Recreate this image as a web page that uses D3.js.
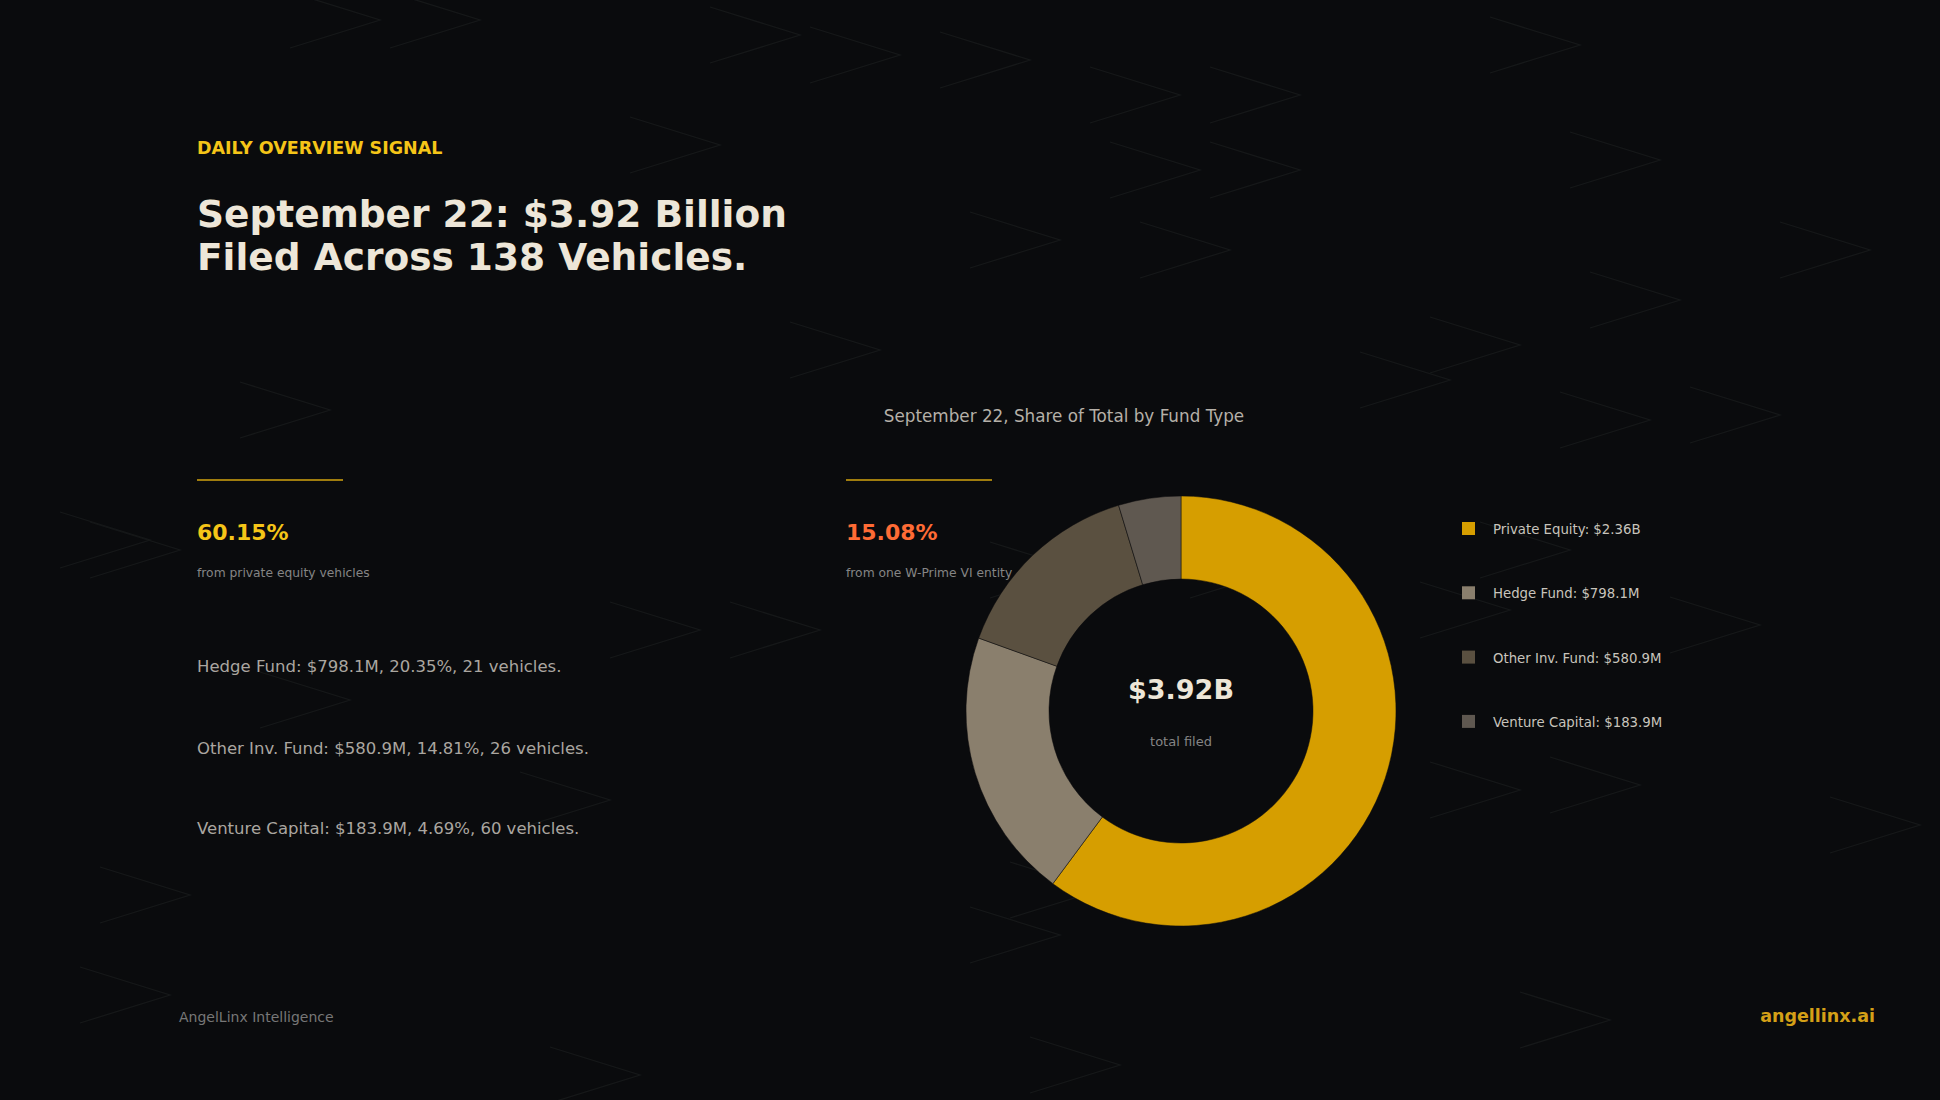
<!DOCTYPE html>
<html><head><meta charset="utf-8">
<script src="https://cdn.jsdelivr.net/npm/d3@7"></script>
<style>body{margin:0;background:#0a0b0d;overflow:hidden}svg{display:block;font-family:"DejaVu Sans",sans-serif}</style>
</head><body><svg id="c" width="1940" height="1100"></svg>
<script>
const categories=["Private Equity","Hedge Fund","Other Inv. Fund","Venture Capital"];
const values=[2360,798.1,580.9,183.9];
const labels=["$2.36B","$798.1M","$580.9M","$183.9M"];
const colors=["#d69e00","#8a7f6d","#5a5040","#5f5850"];
const bodyLines=["Hedge Fund: $798.1M, 20.35%, 21 vehicles.","Other Inv. Fund: $580.9M, 14.81%, 26 vehicles.","Venture Capital: $183.9M, 4.69%, 60 vehicles."];
const chevrons=[[380,20],[480,20],[800,35],[900,55],[1030,60],[1180,95],[1300,95],[1580,45],[1660,160],[1200,170],[1300,170],[720,145],[1060,240],[1230,250],[1870,250],[1680,300],[1520,345],[1780,415],[1650,420],[880,350],[330,410],[180,550],[150,540],[700,630],[820,630],[1450,380],[1510,610],[1570,550],[1760,625],[1520,790],[1640,785],[1920,825],[1060,935],[610,800],[170,995],[190,895],[640,1075],[1120,1065],[1610,1020],[1080,570],[1280,570],[350,700],[1100,890]];
const svg=d3.select("#c");
svg.append("rect").attr("width",1940).attr("height",1100).attr("fill","#0a0b0d");
svg.append("g").selectAll("path").data(chevrons).join("path")
 .attr("d",d=>`M${d[0]-90},${d[1]-28}L${d[0]},${d[1]}L${d[0]-90},${d[1]+28}`)
 .attr("fill","none").attr("stroke","#161819").attr("stroke-width",1.3);
const T=(x,y,t,s,c,w,a)=>svg.append("text").attr("x",x).attr("y",y).text(t).attr("font-size",s).attr("fill",c).attr("font-weight",w||"normal").attr("text-anchor",a||"start");
T(197,154,"DAILY OVERVIEW SIGNAL",17.5,"#f5c518","bold");
T(197,227,"September 22: $3.92 Billion",37.5,"#ede6d8","bold");
T(197,270,"Filed Across 138 Vehicles.",37.5,"#ede6d8","bold");
T(1064,422,"September 22, Share of Total by Fund Type",16.8,"#b5b0a8","normal","middle");
svg.append("line").attr("x1",197).attr("x2",343).attr("y1",480).attr("y2",480).attr("stroke","#a07d0e").attr("stroke-width",2);
svg.append("line").attr("x1",846).attr("x2",992).attr("y1",480).attr("y2",480).attr("stroke","#a07d0e").attr("stroke-width",2);
T(197,540,"60.15%",22,"#f5c518","bold");
T(846,540,"15.08%",22,"#ff6b35","bold");
T(197,577,"from private equity vehicles",12.3,"#858585");
T(846,577,"from one W-Prime VI entity",12.3,"#858585");
bodyLines.forEach((l,i)=>T(197,[672,754,834][i],l,16.5,"#aaa6a0"));
const cx=1181,cy=711;
const pie=d3.pie().sort(null).value(d=>d)(values);
const arc=d3.arc().innerRadius(132).outerRadius(215);
svg.append("g").attr("transform",`translate(${cx},${cy})`).selectAll("path").data(pie).join("path")
 .attr("d",arc).attr("fill",(d,i)=>colors[i]).attr("stroke","#0a0b0d").attr("stroke-width",0.5);
T(cx,699,"$3.92B",27,"#ede6d8","bold","middle");
T(cx,746,"total filed",13,"#858585","normal","middle");
categories.forEach((c,i)=>{const y=529+i*64.3;
 svg.append("rect").attr("x",1462).attr("y",y-7).attr("width",13).attr("height",13).attr("fill",colors[i]);
 T(1493,y+5,c+": "+labels[i],13.3,"#c8c4bc");});
T(179,1022,"AngelLinx Intelligence",14,"#777");
T(1875,1022,"angellinx.ai",17.5,"#d4a017","bold","end");
</script></body></html>
